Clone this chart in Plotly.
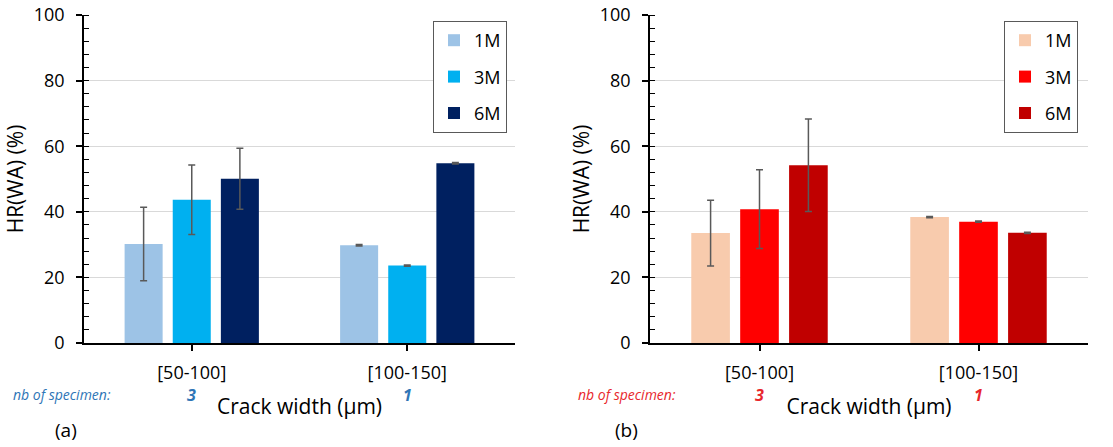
import plotly.graph_objects as go

# ---------------- data ----------------
categories = ["[50-100]", "[100-150]"]
series_names = ["1M", "3M", "6M"]

# panel (a)
a_1M = [30.2, 29.8]
a_3M = [43.7, 23.6]
a_6M = [50.1, 54.8]
a_err_1M = [11.2, 0.2]
a_err_3M = [10.6, 0.2]
a_err_6M = [9.3, 0.2]
a_specimens = [3, 1]

# panel (b)
b_1M = [33.5, 38.4]
b_3M = [40.8, 37.0]
b_6M = [54.2, 33.6]
b_err_1M = [10.0, 0.2]
b_err_3M = [12.0, 0.2]
b_err_6M = [14.1, 0.2]
b_specimens = [3, 1]

colors_a = ["#9DC3E6", "#00B0F0", "#002060"]
colors_b = ["#F8CBAD", "#FF0000", "#C00000"]

W, H = 1113, 447
FONT = "Open Sans"

fig = go.Figure()

panels = [
    dict(vals=[a_1M, a_3M, a_6M], errs=[a_err_1M, a_err_3M, a_err_6M], colors=colors_a,
         xa="x", ya="y", legend="legend"),
    dict(vals=[b_1M, b_3M, b_6M], errs=[b_err_1M, b_err_3M, b_err_6M], colors=colors_b,
         xa="x2", ya="y2", legend="legend2"),
]

for p in panels:
    for i, name in enumerate(series_names):
        fig.add_trace(go.Bar(
            x=categories, y=p["vals"][i], name=name,
            marker=dict(color=p["colors"][i], line=dict(width=0)),
            error_y=dict(type="data", array=p["errs"][i], visible=True,
                         color="#595959", thickness=1.5, width=3.5),
            xaxis=p["xa"], yaxis=p["ya"], legend=p["legend"],
            legendgroup=p["legend"] + name,
        ))

def px_x(v):
    return v / W

def px_y(v):
    return 1 - v / H

ydom = [px_y(343), px_y(15)]
xdom1 = [px_x(84), px_x(515)]
xdom2 = [px_x(650), px_x(1088)]

yaxis_common = dict(
    range=[0, 100], dtick=20, showgrid=True, gridcolor="#D9D9D9", gridwidth=1,
    showline=True, linecolor="#000000", linewidth=1.5,
    ticks="outside", ticklen=6, tickcolor="#000000", tickwidth=1.5,
    ticklabelstandoff=8, automargin=False,
    minor=dict(dtick=4, ticks="inside", ticklen=5, tickcolor="#000000", tickwidth=1.2, showgrid=False),
    tickfont=dict(family=FONT, size=18, color="#000000"),
    title=dict(text="HR(WA) (%)", font=dict(family=FONT, size=21, color="#000000"), standoff=4),
    zeroline=False, fixedrange=True,
)
xaxis_common = dict(
    type="category", showline=True, linecolor="#000000", linewidth=1.5,
    ticks="outside", ticklen=6, tickcolor="#000000", tickwidth=1.5,
    tickson="labels", automargin=False, ticklabelstandoff=7,
    tickfont=dict(family=FONT, size=18, color="#000000"),
    title=dict(text="Crack width (µm)", font=dict(family=FONT, size=21, color="#000000"), standoff=16),
    showgrid=False, fixedrange=True,
)

legend_common = dict(
    xanchor="left", yanchor="top",
    bgcolor="white", bordercolor="#595959", borderwidth=1,
    font=dict(family=FONT, size=18, color="#000000"),
    tracegroupgap=10, traceorder="grouped",
)

fig.update_layout(
    width=W, height=H,
    margin=dict(l=0, r=0, t=0, b=0, autoexpand=False),
    paper_bgcolor="white", plot_bgcolor="white",
    barmode="group", bargap=0.33, bargroupgap=0.21,
    showlegend=True,
    xaxis=dict(domain=xdom1, anchor="y", **xaxis_common),
    yaxis=dict(domain=ydom, anchor="x", **yaxis_common),
    xaxis2=dict(domain=xdom2, anchor="y2", **xaxis_common),
    yaxis2=dict(domain=ydom, anchor="x2", **yaxis_common),
    legend=dict(x=px_x(433), y=px_y(21), **legend_common),
    legend2=dict(x=px_x(1004), y=px_y(21), **legend_common),
)

# small extension of the baseline to the left of the y axis (as in the reference)
for xr, yr in [("x domain", "y"), ("x2 domain", "y2")]:
    fig.add_shape(type="line", xref=xr, yref=yr, x0=-0.015, x1=0, y0=0, y1=0,
                  line=dict(color="#000000", width=1.5))

annotations = []
for xref, labcolor, counts, lab_x, panel_lab, panel_x in [
    ("x", "#2E75B6", a_specimens, 11, "(a)", 66),
    ("x2", "#E8262B", b_specimens, 576, "(b)", 626),
]:
    annotations.append(dict(text="<i>nb of specimen:</i>", x=px_x(lab_x), y=px_y(394),
                            xref="paper", yref="paper", xanchor="left", yanchor="middle",
                            showarrow=False, font=dict(family=FONT, size=14, color=labcolor)))
    for cat, n in zip(categories, counts):
        annotations.append(dict(text=f"<b><i>{n}</i></b>", x=cat, y=px_y(395),
                                xref=xref, yref="paper", xanchor="center", yanchor="middle",
                                showarrow=False, font=dict(family=FONT, size=16, color=labcolor)))
    annotations.append(dict(text=panel_lab, x=px_x(panel_x), y=px_y(430),
                            xref="paper", yref="paper", xanchor="center", yanchor="middle",
                            showarrow=False, font=dict(family=FONT, size=19, color="#000000")))
fig.update_layout(annotations=annotations)

fig.write_html("out.html", config={"displayModeBar": False},
               post_script="document.body.style.margin='0';document.body.style.overflow='hidden';")
